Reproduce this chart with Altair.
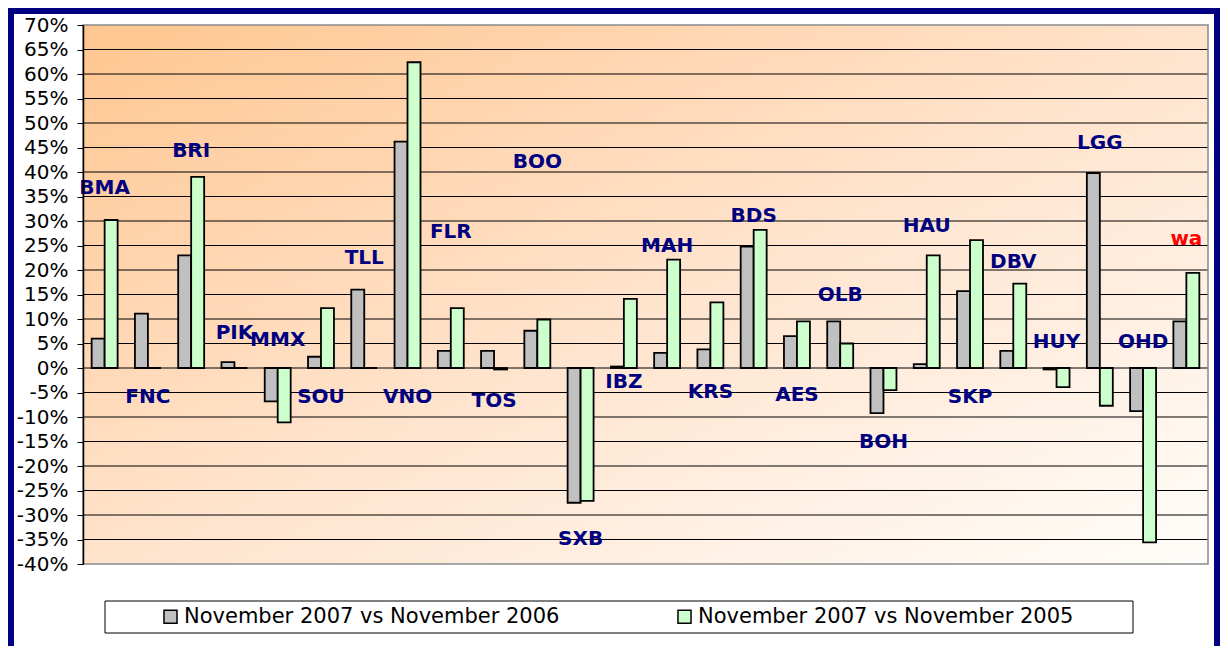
import altair as alt
import pandas as pd

categories = ["BMA", "FNC", "BRI", "PIK", "MMX", "SOU", "TLL", "VNO", "FLR", "TOS",
              "BOO", "SXB", "IBZ", "MAH", "KRS", "BDS", "AES", "OLB", "BOH", "HAU",
              "SKP", "DBV", "HUY", "LGG", "OHD", "wa"]
series_names = ["November 2007 vs November 2006", "November 2007 vs November 2005"]
vs_2006 = [6.0, 11.1, 23.0, 1.2, -6.8, 2.3, 16.0, 46.2, 3.5, 3.5,
           7.6, -27.5, 0.3, 3.1, 3.8, 24.8, 6.5, 9.5, -9.2, 0.8,
           15.7, 3.5, -0.3, 39.8, -8.8, 9.5]
vs_2005 = [30.2, 0.0, 39.0, 0.0, -11.1, 12.2, 0.0, 62.4, 12.2, -0.3,
           9.9, -27.1, 14.1, 22.1, 13.4, 28.2, 9.5, 5.0, -4.5, 23.0,
           26.1, 17.2, -3.9, -7.7, -35.6, 19.4]
label_values = [36.7, -5.9, 44.3, 7.1, 5.7, -5.9, 22.4, -5.9, 27.7, -6.7,
                42.1, -34.9, -2.9, 24.9, -4.9, 31.0, -5.5, 14.9, -15.1, 29.0,
                -5.9, 21.6, 5.3, 45.9, 5.3, 26.3]
tick_values = [-40, -35, -30, -25, -20, -15, -10, -5, 0, 5, 10, 15, 20, 25,
               30, 35, 40, 45, 50, 55, 60, 65, 70]

W, H = 1125, 539
FONT = "DejaVu Sans"

rows = []
for i, c in enumerate(categories):
    rows.append({"cat": c, "series": series_names[0], "v": vs_2006[i] / 100})
    rows.append({"cat": c, "series": series_names[1], "v": vs_2005[i] / 100})
bars_df = pd.DataFrame(rows)
labels_df = pd.DataFrame({
    "cat": categories,
    "lv": [v / 100 for v in label_values],
    "col": ["red" if c == "wa" else "navy" for c in categories],
})
grid_df = pd.DataFrame({"g": [t / 100 for t in tick_values[1:-1]]})

yscale = alt.Scale(domain=[-0.40, 0.70], nice=False, zero=False)
xscale = alt.Scale(domain=categories, paddingInner=0.4, paddingOuter=0.2)

yaxis = alt.Axis(values=[t / 100 for t in tick_values],
                 labelExpr="round(datum.value*100) + '%'",
                 grid=False, domainColor="black", domainWidth=1.5,
                 tickColor="black", tickSize=6, tickWidth=1,
                 labelFont=FONT, labelFontSize=20, labelColor="black",
                 labelPadding=9, title=None, zindex=1)

bg = alt.Chart(pd.DataFrame({"a": [0]})).mark_rect(
    fill=alt.LinearGradient(
        gradient="linear", x1=0, y1=0, x2=1, y2=1,
        stops=[alt.GradientStop(color="#FFC690", offset=0),
               alt.GradientStop(color="#FFE3CC", offset=0.5),
               alt.GradientStop(color="#FFFDFA", offset=1)]),
).encode(x=alt.value(0), x2=alt.value(W), y=alt.value(0), y2=alt.value(H))

grid = alt.Chart(grid_df).mark_rule(color="black", strokeWidth=1).encode(
    y=alt.Y("g:Q", scale=yscale, axis=yaxis)
)

frame = alt.Chart(pd.DataFrame({"a": [0]})).mark_rect(
    fill=None, stroke="#8a8a8a", strokeWidth=1.5
).encode(x=alt.value(0), x2=alt.value(W), y=alt.value(0), y2=alt.value(H))

legend_box = alt.Chart(pd.DataFrame({"a": [0]})).mark_rect(
    fill="white", stroke="black", strokeWidth=1
).encode(x=alt.value(22), x2=alt.value(1050), y=alt.value(576), y2=alt.value(608))

border = alt.Chart(pd.DataFrame({"a": [0]})).mark_rect(
    fill=None, stroke="#000080", strokeWidth=6
).encode(x=alt.value(-72), x2=alt.value(1134), y=alt.value(-14), y2=alt.value(700))

bars = alt.Chart(bars_df).mark_bar(stroke="black", strokeWidth=1.8).encode(
    x=alt.X("cat:N", scale=xscale, sort=categories, axis=None),
    xOffset=alt.XOffset("series:N", sort=series_names,
                        scale=alt.Scale(paddingInner=0, paddingOuter=0)),
    y=alt.Y("v:Q", scale=yscale, axis=yaxis),
    y2=alt.datum(0),
    color=alt.Color("series:N", sort=series_names,
                    scale=alt.Scale(domain=series_names, range=["#C0C0C0", "#CCFFCC"]),
                    legend=alt.Legend(orient="none", direction="horizontal",
                                      legendX=77, legendY=581, title=None,
                                      symbolType="square", symbolSize=170,
                                      symbolStrokeColor="black", symbolStrokeWidth=1.5,
                                      labelFont=FONT, labelFontSize=21,
                                      labelColor="black", labelOffset=3,
                                      columnPadding=114, padding=0,
                                      labelLimit=500)),
)

labels = alt.Chart(labels_df).mark_text(
    font=FONT, fontSize=20, fontWeight="bold", baseline="middle", align="center"
).encode(
    x=alt.X("cat:N", scale=xscale, sort=categories, axis=None),
    y=alt.Y("lv:Q", scale=yscale, axis=yaxis),
    text="cat:N",
    color=alt.Color("col:N", scale=None, legend=None),
)

chart = alt.layer(bg, grid, frame, bars, labels, legend_box, border).resolve_scale(
    color="independent"
).properties(
    width=W, height=H,
    padding={"left": 75, "top": 17, "right": 12, "bottom": 82},
    autosize=alt.AutoSizeParams(type="none"),
    background="white",
).configure_view(stroke=None)

chart.save("out.html", embed_options={"renderer": "svg", "actions": False})
